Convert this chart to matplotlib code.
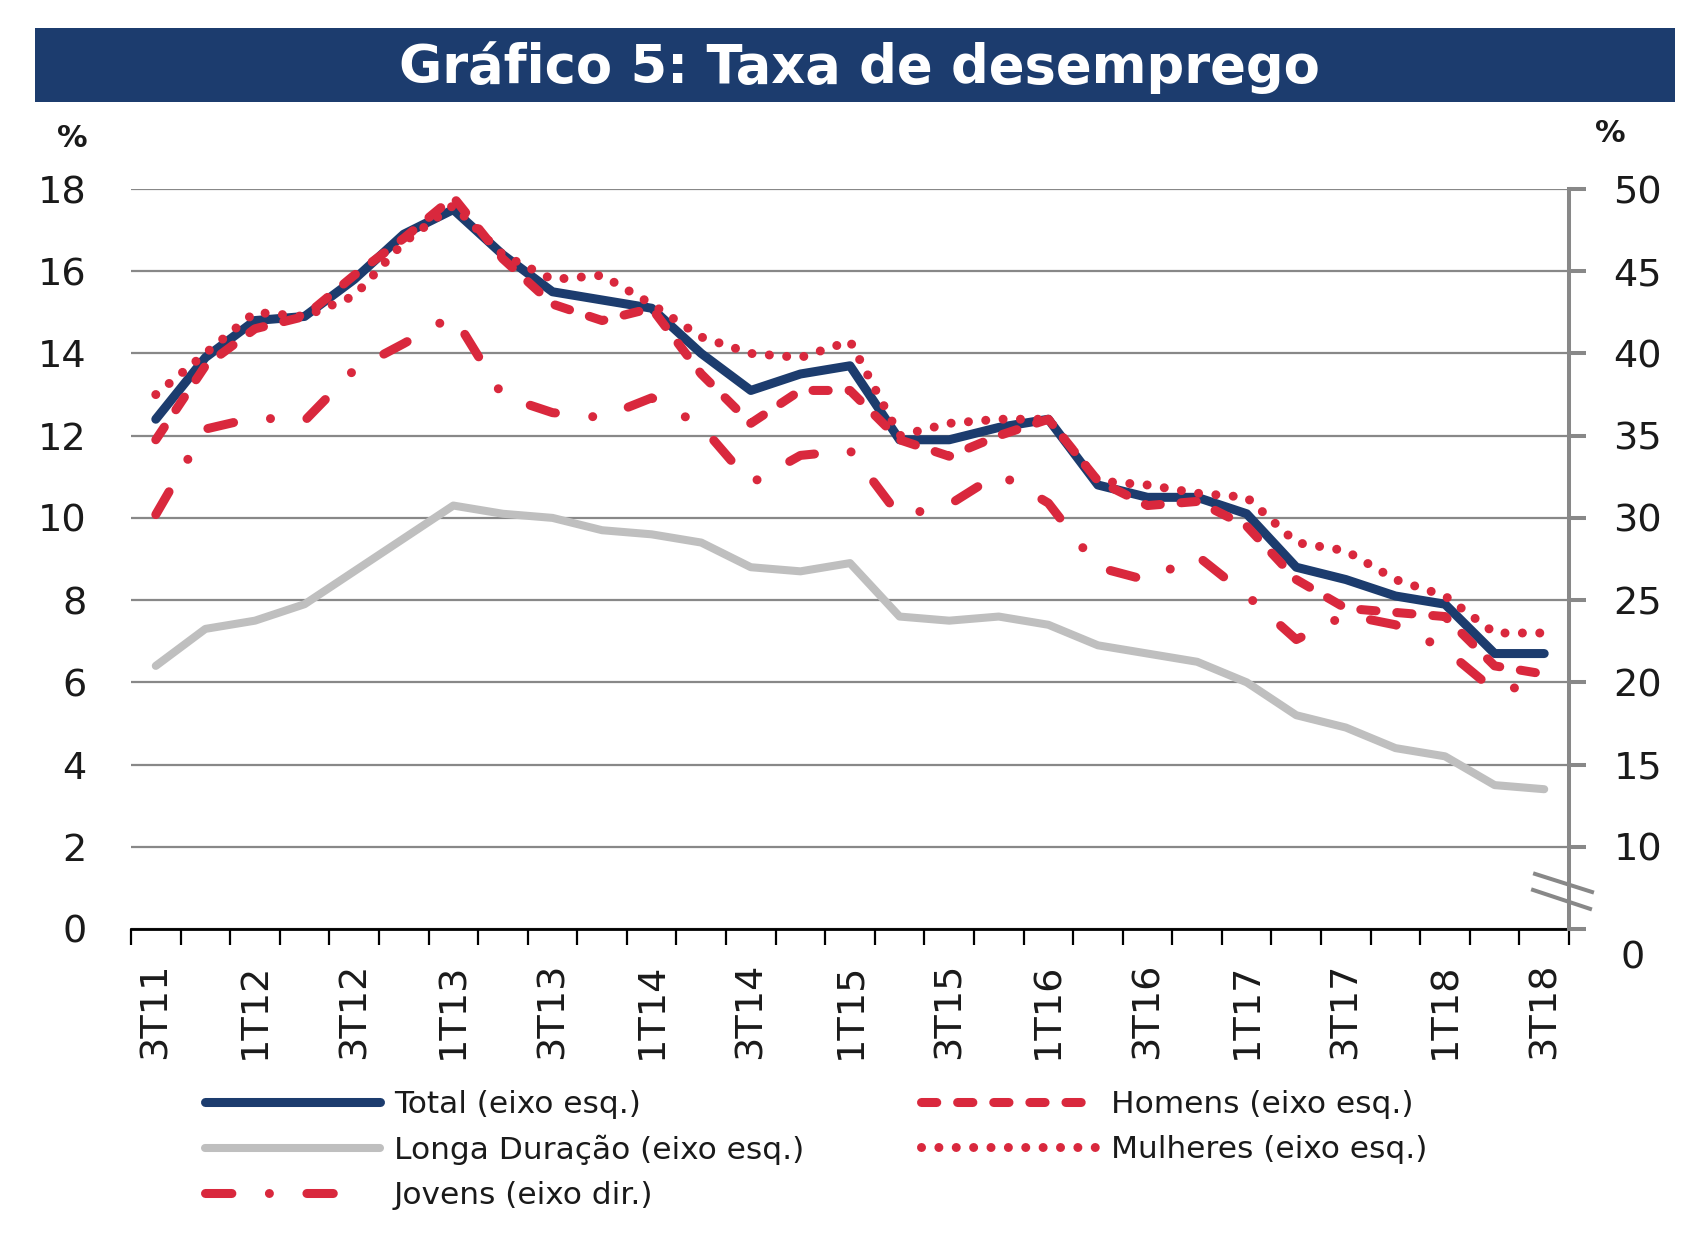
import matplotlib
matplotlib.use("Agg")
import matplotlib.pyplot as plt
import matplotlib.transforms as mtransforms
from matplotlib.patches import Rectangle
from matplotlib.lines import Line2D
import numpy as np

plt.rcParams['font.family'] = ['DejaVu Sans']
plt.rcParams['lines.scale_dashes'] = False

quarters = ['3T11', '4T11', '1T12', '2T12', '3T12', '4T12', '1T13', '2T13', '3T13', '4T13',
            '1T14', '2T14', '3T14', '4T14', '1T15', '2T15', '3T15', '4T15', '1T16', '2T16',
            '3T16', '4T16', '1T17', '2T17', '3T17', '4T17', '1T18', '2T18', '3T18']

total = [12.4, 13.9, 14.8, 14.9, 15.8, 16.9, 17.5, 16.4, 15.5, 15.3, 15.1, 14.0, 13.1, 13.5, 13.7,
         11.9, 11.9, 12.2, 12.4, 10.8, 10.5, 10.5, 10.1, 8.8, 8.5, 8.1, 7.9, 6.7, 6.7]
longa = [6.4, 7.3, 7.5, 7.9, 8.7, 9.5, 10.3, 10.1, 10.0, 9.7, 9.6, 9.4, 8.8, 8.7, 8.9,
         7.6, 7.5, 7.6, 7.4, 6.9, 6.7, 6.5, 6.0, 5.2, 4.9, 4.4, 4.2, 3.5, 3.4]
homens = [11.9, 13.7, 14.6, 14.9, 15.9, 16.8, 17.8, 16.3, 15.2, 14.8, 15.1, 13.5, 12.3, 13.1, 13.1,
          11.9, 11.5, 12.0, 12.4, 10.9, 10.3, 10.4, 9.8, 8.5, 7.8, 7.7, 7.6, 6.4, 6.2]
mulheres = [13.0, 14.0, 15.0, 14.9, 15.4, 16.7, 17.6, 16.4, 15.8, 15.9, 15.2, 14.4, 14.0, 13.9, 14.3,
            12.0, 12.3, 12.4, 12.4, 10.9, 10.8, 10.6, 10.5, 9.4, 9.2, 8.5, 8.1, 7.2, 7.2]
jovens = [30.2, 35.4, 36.1, 35.9, 39.0, 40.6, 42.3, 37.4, 36.4, 36.1, 37.3, 35.6, 32.1, 33.8, 34.1,
          30.1, 30.8, 32.7, 30.9, 27.0, 26.2, 27.7, 25.3, 22.6, 24.1, 23.5, 22.0, 19.5, 19.9]

left_ticks = list(range(0, 19, 2))
right_ticks = list(range(10, 51, 5))

navy = '#1c3c6e'
red = '#d9283d'
light = '#bfbfbf'
gridc = '#888888'
txt = '#1a1a1a'

fig = plt.figure(figsize=(17.08, 12.40), dpi=100)

# title banner
fig.patches.append(Rectangle((0.0205, 0.9177), 0.960, 0.0597, transform=fig.transFigure,
                             facecolor=navy, edgecolor='none'))
fig.text(0.503, 0.9455, 'Gráfico 5: Taxa de desemprego', ha='center', va='center',
         fontsize=38, fontweight='bold', color='white')

ax = fig.add_axes([0.0767, 0.25081, 0.84192, 0.59677])
x = np.arange(len(quarters))

l_longa, = ax.plot(x, longa, color=light, lw=5.8, solid_capstyle='round', solid_joinstyle='round',
                   label='Longa Duração (eixo esq.)')
l_total, = ax.plot(x, total, color=navy, lw=6.5, solid_capstyle='round', solid_joinstyle='round',
                   label='Total (eixo esq.)')
l_hom, = ax.plot(x, homens, color=red, lw=6.5, dashes=(11, 15), dash_capstyle='round',
                 label='Homens (eixo esq.)')
l_mul, = ax.plot(x, mulheres, color=red, lw=6.5, dashes=(0.01, 12.5), dash_capstyle='round',
                 label='Mulheres (eixo esq.)')

ax.set_xlim(-0.5, len(quarters) - 0.5)
ax.set_ylim(0, 18)
ax.set_yticks(left_ticks)
ax.grid(axis='y', color=gridc, lw=1.6)
ax.set_axisbelow(True)
for s in ['top', 'left', 'right']:
    ax.spines[s].set_visible(False)
ax.spines['bottom'].set_color('black')
ax.spines['bottom'].set_linewidth(2)
ax.spines['bottom'].set_zorder(5)

ax.set_xticks(x[::2])
ax.set_xticklabels(quarters[::2], rotation=90)
ax.set_xticks(np.arange(-0.5, len(quarters), 1), minor=True)
ax.tick_params(axis='x', which='major', length=0, pad=24, labelsize=27.5, labelcolor=txt)
ax.tick_params(axis='x', which='minor', length=11.5, width=1.6, color='black', direction='out')
ax.tick_params(axis='y', length=0, pad=32, labelsize=27.5, labelcolor=txt)

ax2 = ax.twinx()
ax2.set_ylim(5, 50)
l_jov, = ax2.plot(x, jovens, color=red, lw=6.5, dashes=(19, 27, 0.01, 27), dash_capstyle='round',
                  label='Jovens (eixo dir.)')
for s in ['top', 'left', 'bottom']:
    ax2.spines[s].set_visible(False)
ax2.spines['right'].set_color(gridc)
ax2.spines['right'].set_linewidth(2.9)
ax2.set_yticks(right_ticks)
ax2.set_yticks([5], minor=True)
ax2.tick_params(axis='y', which='both', length=12, width=2.9, color=gridc, pad=20,
                labelsize=27.5, labelcolor=txt)
ax2.annotate('0', xy=(1, 5), xycoords=('axes fraction', 'data'), xytext=(46, -21),
             textcoords='offset points', ha='center', va='center', fontsize=27.5, color=txt,
             annotation_clip=False)

# axis break marks
trans = mtransforms.blended_transform_factory(ax.transAxes, ax.transData)
for xs, ys in [((0.9764, 1.016), (1.34, 0.90)), ((0.975, 1.0146), (0.95, 0.49))]:
    ax.add_line(Line2D(xs, ys, transform=trans, color=gridc, lw=2.9, clip_on=False, zorder=6))

fig.text(0.0422, 0.8887, '%', ha='center', va='center', fontsize=22, fontweight='bold', color=txt)
fig.text(0.9426, 0.892, '%', ha='center', va='center', fontsize=22, fontweight='bold', color=txt)

# legend proxy for Jovens so the sample ends on a dash, as in the original
jov_handle = Line2D([], [], color=red, lw=6.5, dashes=(19, 27, 0.01, 27, 19, 60),
                    dash_capstyle='round')
handles = [l_total, l_longa, jov_handle, l_hom, l_mul]
labels = [l_total.get_label(), l_longa.get_label(), l_jov.get_label(),
          l_hom.get_label(), l_mul.get_label()]
fig.legend(handles, labels, ncol=2, loc='upper left',
           bbox_to_anchor=(0.12, 0.121), frameon=False, fontsize=22.5, handlelength=5.6,
           handletextpad=0.45, columnspacing=3.75, labelspacing=0.5, borderpad=0,
           borderaxespad=0, labelcolor=txt)

fig.savefig('out.png', dpi=100)
